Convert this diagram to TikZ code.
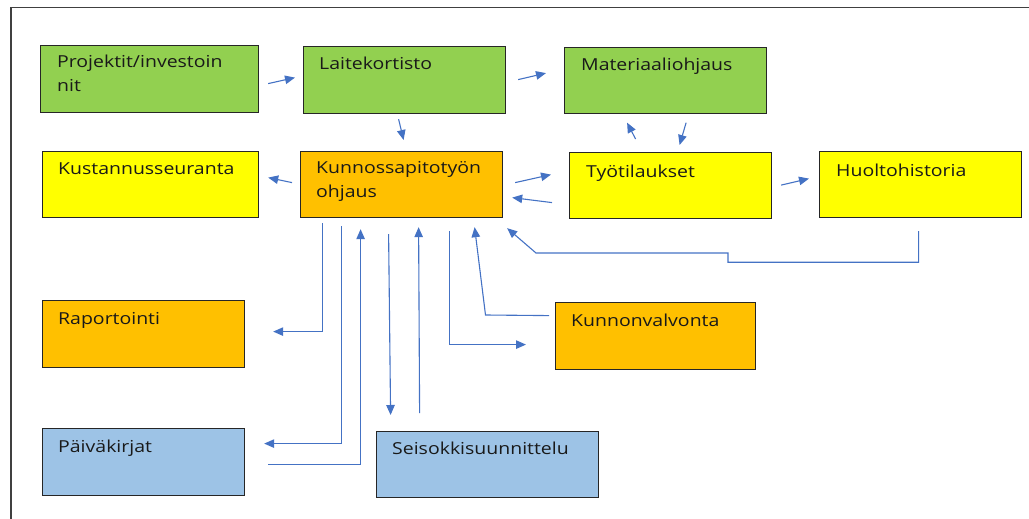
\documentclass[tikz,border=0pt]{standalone}
\usepackage{fontspec}
\setmainfont{Open Sans}[FakeStretch=1.18]
\usetikzlibrary{arrows.meta,calc}
\definecolor{gr}{HTML}{92D050}
\definecolor{ye}{HTML}{FFFF00}
\definecolor{or}{HTML}{FFC000}
\definecolor{bl}{HTML}{9DC3E6}
\definecolor{ar}{HTML}{4472C4}
\definecolor{bd}{HTML}{262626}
\begin{document}
\begin{tikzpicture}[x=1pt,y=-1pt,
  box/.style={draw=bd,line width=1.2pt,anchor=north west,inner sep=0pt},
  txt/.style={anchor=base west,inner sep=0pt,align=left,text=black!90,font=\fontsize{16.5}{24}\selectfont},
  arr/.style={draw=ar,line width=1.1pt,-{Triangle[length=10pt,width=8.5pt]}},
  ln/.style={draw=ar,line width=1.1pt}]
\useasboundingbox (0,0) rectangle (1029,519);
\draw[draw=black!75,line width=1.6pt] (1029,7.5) -- (11,7.5) -- (11,519);
% boxes
\node[box,fill=gr,minimum width=218pt,minimum height=67pt] (proj) at (40,45) {};
\node[box,fill=gr,minimum width=202pt,minimum height=67pt] (lait) at (303,46) {};
\node[box,fill=gr,minimum width=202pt,minimum height=66pt] (mat) at (564,47) {};
\node[box,fill=ye,minimum width=216pt,minimum height=66pt] (kust) at (42,151) {};
\node[box,fill=or,minimum width=202pt,minimum height=66pt] (ohj) at (300,151) {};
\node[box,fill=ye,minimum width=202pt,minimum height=66pt] (tyo) at (569,152) {};
\node[box,fill=ye,minimum width=202pt,minimum height=66pt] (huol) at (819,151) {};
\node[box,fill=or,minimum width=202pt,minimum height=67pt] (rap) at (42,300) {};
\node[box,fill=or,minimum width=200pt,minimum height=67pt] (kunv) at (555,302) {};
\node[box,fill=bl,minimum width=202pt,minimum height=67pt] (paiv) at (42,428) {};
\node[box,fill=bl,minimum width=222pt,minimum height=66pt] (seis) at (376,431) {};
% texts
\node[txt] (projT) at ([shift={(17,47)}]proj.north west) {Projektit/investoin\\nit};
\node[txt] (laitT) at ([shift={(16,24)}]lait.north west) {Laitekortisto};
\node[txt] (matT) at ([shift={(17,24)}]mat.north west) {Materiaaliohjaus};
\node[txt] (kustT) at ([shift={(16,23)}]kust.north west) {Kustannusseuranta};
\node[txt] (ohjT) at ([shift={(16,46)}]ohj.north west) {Kunnossapitotyön\\ohjaus};
\node[txt] (tyoT) at ([shift={(17,25)}]tyo.north west) {Työtilaukset};
\node[txt] (huolT) at ([shift={(17,25)}]huol.north west) {Huoltohistoria};
\node[txt] (rapT) at ([shift={(16,24)}]rap.north west) {Raportointi};
\node[txt] (kunvT) at ([shift={(16,24)}]kunv.north west) {Kunnonvalvonta};
\node[txt] (paivT) at ([shift={(16,24)}]paiv.north west) {Päiväkirjat};
\node[txt] (seisT) at ([shift={(16,23)}]seis.north west) {Seisokkisuunnittelu};
% connectors
\draw[arr] ($(proj.east)+(9,4.5)$) -- ($(lait.west)+(-8,-2.5)$);
\draw[arr] ($(lait.east)+(12,-0.5)$) -- ($(mat.west)+(-18,-7.5)$);
\draw[arr] ($(lait.south)+(-6,5)$) -- ($(ohj.north)+(2,-11)$);
\draw[arr] ($(ohj.west)+(-8,-2)$) -- ($(kust.east)+(9,-7)$);
\draw[arr] ($(ohj.east)+(12,-2)$) -- ($(tyo.west)+(-18,-11)$);
\draw[arr] ($(tyo.west)+(-17,17)$) -- ($(ohj.east)+(9,13)$);
\draw[arr] ($(tyo.north)+(-35,-13)$) -- ($(mat.south)+(-38.5,8.5)$);
\draw[arr] ($(mat.south)+(20.5,8.5)$) -- ($(tyo.north)+(9,-7)$);
\draw[arr] ($(tyo.east)+(9,-0.5)$) -- ($(huol.west)+(-10,-6)$);
\draw[arr] ($(huol.south)+(-2,13)$) -- ++(0,31) -| (728,253) -- (536,253) -- ($(ohj.south east)+(4,10)$);
\draw[arr] ($(kunv.west)+(-6,-20.5)$) -- (485.5,315) -- ($(ohj.south)+(73,9)$);
\draw[arr] ($(ohj.south)+(48,13)$) |- ($(kunv.west)+(-29,8.5)$);
\draw[arr] ($(ohj.south)+(-79,5)$) |- ($(rap.east)+(28,-2.5)$);
\draw[arr] ($(ohj.south)+(-60,8)$) |- ($(paiv.east)+(19,-18.5)$);
\draw[arr] ($(paiv.east)+(23,2.5)$) -| ($(ohj.south)+(-41,11)$);
\draw[arr] ($(ohj.south)+(-13,16)$) -- ($(seis.north)+(-97,-16)$);
\draw[arr] ($(seis.north)+(-68,-18)$) -- ($(ohj.south)+(17,9)$);
\end{tikzpicture}
\end{document}
